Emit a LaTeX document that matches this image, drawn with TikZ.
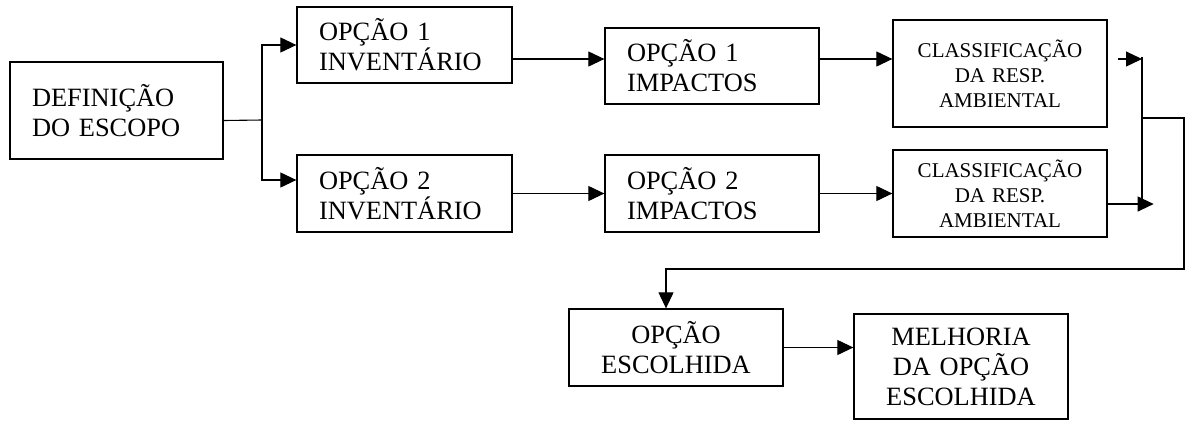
\documentclass[tikz,border=0pt]{standalone}
\usepackage{fontspec}
\setmainfont{Liberation Serif}
\usetikzlibrary{arrows.meta}

\begin{document}
\begin{tikzpicture}[x=1pt,y=-1pt]
\tikzstyle{box}=[draw, line width=1.3pt, inner ysep=0pt, font=\fontsize{26.4}{30}\selectfont]
\tikzstyle{lbox}=[box, align=left, inner xsep=22pt]
\tikzstyle{cbox}=[box, align=center, inner xsep=4pt]
\tikzstyle{conn}=[line width=1.1pt]
\tikzstyle{arr}=[conn, -{Triangle[length=16pt,width=15pt]}]
\useasboundingbox (0,0) rectangle (1185,421);
\node [lbox, text width=169pt, minimum height=97pt] (def) at (116.5,110.5) {DEFINIÇÃO\\DO ESCOPO\\[6pt]};
\node [lbox, text width=171pt, minimum height=76pt] (inv1) at (404.5,45) {OPÇÃO 1\\INVENTÁRIO};
\node [lbox, text width=171pt, minimum height=77pt] (inv2) at (404.5,193.5) {OPÇÃO 2\\INVENTÁRIO};
\node [lbox, text width=170pt, minimum height=76pt] (imp1) at (712,66) {OPÇÃO 1\\IMPACTOS};
\node [lbox, text width=170pt, minimum height=77pt] (imp2) at (712,193.5) {OPÇÃO 2\\IMPACTOS};
\node [cbox, text width=206pt, minimum height=107pt, font=\fontsize{21}{25}\selectfont] (cls1) at (1000,73.5) {CLASSIFICAÇÃO\\DA RESP.\\AMBIENTAL\\[8pt]};
\node [cbox, text width=206pt, minimum height=87pt, font=\fontsize{21}{25}\selectfont] (cls2) at (1000,193.5) {CLASSIFICAÇÃO\\DA RESP.\\AMBIENTAL};
\node [cbox, text width=206pt, minimum height=77pt] (esc) at (676,347.5) {OPÇÃO\\ESCOLHIDA};
\node [cbox, text width=206pt, minimum height=105pt] (mel) at (961,366.5) {MELHORIA\\DA OPÇÃO\\ESCOLHIDA};
\coordinate (split) at (262,120);
\coordinate (mtop) at (1142,57);
\coordinate (mbot) at (1142,202);
\coordinate (mmid) at (1142,118);
\coordinate (back) at (1184,269);
\draw [conn] ([yshift=-10pt]def.east) -- (split);
\draw [arr] (split) |- (inv1.west);
\draw [arr] (split) |- ([yshift=13.5pt]inv2.west);
\draw [arr] ([yshift=-14pt]inv1.east) -- ([yshift=-14pt]inv1.east -| imp1.west);
\draw [arr] (inv2.east) -- (imp2.west);
\draw [arr] ([yshift=7pt]imp1.east) -- ([yshift=7pt]imp1.east -| cls1.west);
\draw [arr] (imp2.east) -- (imp2.west -| cls2.west);
\draw [arr] ([xshift=10pt,yshift=14.5pt]cls1.east) -- ([yshift=14.5pt]cls1.east -| mtop);
\draw [conn] (mtop) -- (mbot);
\draw [arr] ([yshift=-10.5pt]cls2.east) -- ++(46,0);
\draw [arr] (mmid) -| (back) -| ([xshift=-10pt]esc.north);
\draw [arr] (esc.east) -- (mel.west |- esc.east);
\end{tikzpicture}
\end{document}
